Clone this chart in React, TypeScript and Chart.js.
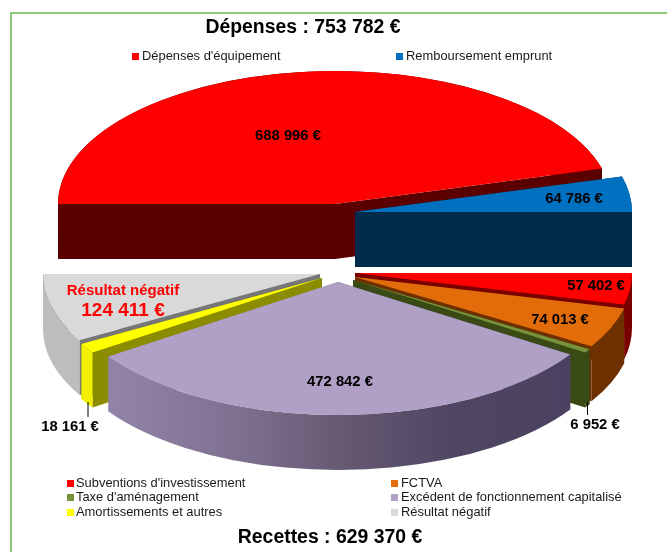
import React, { useEffect, useRef } from "react";
import { Chart, registerables } from "chart.js";

Chart.register(...registerables);

const categories = [
  "Dépenses d'équipement",
  "Remboursement emprunt",
  "Subventions d'investissement",
  "FCTVA",
  "Taxe d'aménagement",
  "Excédent de fonctionnement capitalisé",
  "Amortissements et autres",
  "Résultat négatif",
];
const values = [688996, 64786, 57402, 74013, 6952, 472842, 18161, 124411];
const faceColors = ["#fe0000", "#0070c0", "#ff0000", "#e36c0a", "#76923c", "#b0a0c6", "#ffff00", "#d9d9d9"];
const titleTop = "Dépenses : 753 782 €";
const titleBottom = "Recettes : 629 370 €";

// Styling / layout of the drawing
const W = 667;
const H = 552;
const RADIUS = 277;
const SQUASH = 133 / 277;
const DEPTH = 55;
const centres = [
  [335, 204], [355, 212], [355, 273], [355, 277], [353, 280], [338, 282], [322, 278], [320, 274],
];
const drawOrder = [0, 1, 7, 6, 2, 3, 4, 5];
const outerWall = ["#5a0000", "#002b4b", "#7a0000", "#6e3000", "#3a4a14", "grad", "#f0f000", "#bdbdbd"];
const startWall = ["#5a0000", "#002b4b", "#7a0000", "#6e3000", "#3a4a14", "#4a4260", "#8c8c00", "#777777"];
const endWall = ["#5a0000", "#002b4b", "#7a0000", "#6e3000", "#3a4a14", "#8f83a5", "#8c8c00", "#777777"];
const labelPos: (number[] | null)[] = [
  [288, 135], [574, 198], [596, 285], [560, 319], [595, 424], [340, 381], [70, 426], null,
];
const legendPos = [
  [132, 53], [396, 53], [67, 480], [391, 480], [67, 494], [391, 494], [67, 509], [391, 509],
];

const fmt = (v: number) => String(v).replace(/\B(?=(\d{3})+$)/g, " ") + " €";

const pie3d = {
  id: "pie3d",
  afterDatasetsUpdate(chart: any) {
    const arcs = chart.getDatasetMeta(0).data;
    arcs.forEach((arc: any, i: number) => {
      arc.x = centres[i][0];
      arc.y = centres[i][1] / SQUASH;
    });
  },
  beforeDatasetDraw(chart: any) {
    const ctx = chart.ctx as CanvasRenderingContext2D;
    const arcs = chart.getDatasetMeta(0).data;
    const grad = ctx.createLinearGradient(110, 0, 570, 0);
    grad.addColorStop(0, "#9184a8");
    grad.addColorStop(0.3, "#7c6f8e");
    grad.addColorStop(0.5, "#665972");
    grad.addColorStop(0.75, "#4f4663");
    grad.addColorStop(1, "#4a4260");

    const radial = (cx: number, cy: number, a: number, color: any) => {
      const px = cx + RADIUS * Math.cos(a);
      const py = cy + RADIUS * SQUASH * Math.sin(a);
      ctx.beginPath();
      ctx.moveTo(cx, cy);
      ctx.lineTo(px, py);
      ctx.lineTo(px, py + DEPTH);
      ctx.lineTo(cx, cy + DEPTH);
      ctx.closePath();
      ctx.fillStyle = color;
      ctx.fill();
    };
    const outer = (cx: number, cy: number, a0: number, a1: number, color: any) => {
      ctx.beginPath();
      ctx.ellipse(cx, cy, RADIUS, RADIUS * SQUASH, 0, a0, a1);
      ctx.ellipse(cx, cy + DEPTH, RADIUS, RADIUS * SQUASH, 0, a1, a0, true);
      ctx.closePath();
      ctx.fillStyle = color;
      ctx.fill();
    };

    for (const i of drawOrder) {
      const arc = arcs[i];
      const cx = centres[i][0];
      const cy = centres[i][1];
      const { startAngle, endAngle } = arc;
      radial(cx, cy, endAngle, endWall[i]);
      radial(cx, cy, startAngle, startWall[i]);
      outer(cx, cy, startAngle, endAngle, outerWall[i] === "grad" ? grad : outerWall[i]);
      ctx.save();
      ctx.scale(1, SQUASH);
      arc.draw(ctx);
      ctx.restore();
    }
    return false;
  },
  beforeDraw(chart: any) {
    const ctx = chart.ctx as CanvasRenderingContext2D;
    ctx.save();
    ctx.fillStyle = "#ffffff";
    ctx.fillRect(0, 0, W, H);
    ctx.fillStyle = "#8cc971";
    ctx.fillRect(10, 12, W - 10, 2);
    ctx.fillRect(10, 12, 2, H - 12);
    ctx.restore();
  },
  afterDraw(chart: any) {
    const ctx = chart.ctx as CanvasRenderingContext2D;
    const family = '"Liberation Sans", Arial, sans-serif';
    ctx.save();
    ctx.textBaseline = "middle";
    ctx.textAlign = "center";
    ctx.fillStyle = "#000000";
    ctx.font = `bold 19.4px ${family}`;
    ctx.fillText(titleTop, 303, 28);
    ctx.fillText(titleBottom, 330, 538);

    ctx.font = `bold 14.8px ${family}`;
    values.forEach((v, i) => {
      const p = labelPos[i];
      if (p) ctx.fillText(fmt(v), p[0], p[1] + 0.5);
    });

    ctx.fillStyle = "#ff0000";
    ctx.font = `bold 15px ${family}`;
    ctx.fillText(categories[7], 123, 291);
    ctx.font = `bold 19px ${family}`;
    ctx.fillText(fmt(values[7]), 123, 311);

    ctx.strokeStyle = "#000000";
    ctx.lineWidth = 1;
    ctx.beginPath();
    ctx.moveTo(88, 402);
    ctx.lineTo(88, 417);
    ctx.moveTo(587.5, 402);
    ctx.lineTo(587.5, 415);
    ctx.stroke();

    ctx.textAlign = "left";
    ctx.font = `12.9px ${family}`;
    categories.forEach((c, i) => {
      const [x, y] = legendPos[i];
      ctx.fillStyle = faceColors[i] === "#fe0000" ? "#ff0000" : faceColors[i];
      ctx.fillRect(x, y, 7, 7);
      ctx.fillStyle = "#1a1a1a";
      ctx.fillText(c, x + (x === 67 ? 9 : 10), y + 3.5);
    });
    ctx.restore();
  },
};

export default function App() {
  const ref = useRef<HTMLCanvasElement>(null);
  useEffect(() => {
    document.body.style.margin = "0";
    const chart = new Chart(ref.current as HTMLCanvasElement, {
      type: "pie",
      data: {
        labels: categories,
        datasets: [
          { data: values, backgroundColor: faceColors, borderWidth: 0, clip: false } as any,
        ],
      },
      options: {
        animation: false,
        responsive: false,
        radius: RADIUS,
        rotation: -90,
        events: [],
        plugins: { legend: { display: false }, tooltip: { enabled: false }, title: { display: false } },
      } as any,
      plugins: [pie3d as any],
    });
    return () => chart.destroy();
  }, []);
  return (
    <div style={{ position: "absolute", left: 0, top: 0, width: W, height: H }}>
      <canvas ref={ref} width={W} height={H} style={{ display: "block" }} />
    </div>
  );
}
